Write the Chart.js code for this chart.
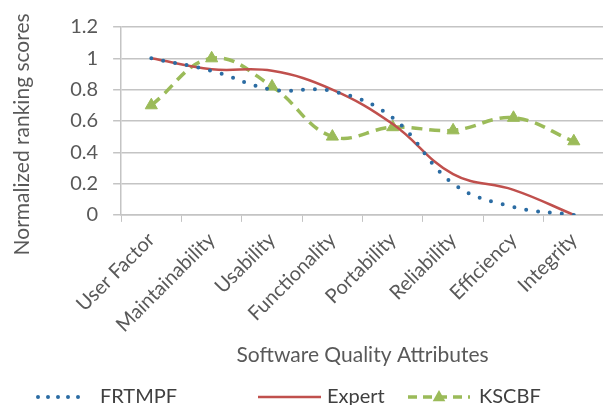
<!DOCTYPE html>
<html>
<head>
<meta charset="utf-8">
<script src="https://cdn.jsdelivr.net/npm/chart.js@4"></script>
<style>
  html, body { margin: 0; padding: 0; overflow: hidden; background: #fff; }
  #wrap { width: 612px; height: 405px; position: relative; }
</style>
</head>
<body>
<div id="wrap"><canvas id="chart" width="612" height="405"></canvas></div>
<script>
var categories = ['User Factor', 'Maintainability', 'Usability', 'Functionality', 'Portability', 'Reliability', 'Efficiency', 'Integrity'];
var frtmpf = [1, 0.92, 0.80, 0.79, 0.62, 0.20, 0.05, 0];
var expert = [1, 0.93, 0.92, 0.80, 0.58, 0.26, 0.16, 0];
var kscbf = [0.70, 1, 0.82, 0.50, 0.56, 0.54, 0.62, 0.47];
var yTicks = [0, 0.2, 0.4, 0.6, 0.8, 1, 1.2];

var textColor = '#595959';
var gridColor = '#c4c4c4';
var font = 'Lato, "Open Sans", sans-serif';

// legend drawn by hand so the samples sit where the original has them
var sampleLegend = {
    id: 'sampleLegend',
    afterDraw: function (chart, args, opts) {
        var ctx = chart.ctx;
        var ds = chart.data.datasets;
        ctx.save();
        opts.items.forEach(function (it, i) {
            var d = ds[i];
            ctx.beginPath();
            ctx.strokeStyle = d.borderColor;
            ctx.lineWidth = d.borderWidth;
            ctx.lineCap = d.borderCapStyle || 'butt';
            ctx.setLineDash(it.dash || d.borderDash || []);
            ctx.moveTo(it.x0, opts.y);
            ctx.lineTo(it.x1, opts.y);
            ctx.stroke();
            ctx.setLineDash([]);
            if (d.pointRadius > 0) {
                var cx = (it.x0 + it.x1) / 2, r = d.pointRadius;
                ctx.beginPath();
                ctx.fillStyle = d.pointBackgroundColor;
                ctx.moveTo(cx, opts.y - r);
                ctx.lineTo(cx + r * 0.9, opts.y + r * 0.6);
                ctx.lineTo(cx - r * 0.9, opts.y + r * 0.6);
                ctx.closePath();
                ctx.fill();
            }
            ctx.fillStyle = '#404040';
            ctx.font = '20px ' + font;
            ctx.textBaseline = 'middle';
            ctx.fillText(d.label, it.tx, opts.y);
        });
        ctx.restore();
    }
};

var ctx = document.getElementById('chart').getContext('2d');
var myChart = new Chart(ctx, {
    type: 'line',
    data: {
        labels: categories,
        datasets: [{
            label: 'FRTMPF',
            data: frtmpf,
            borderColor: '#2b6ca3',
            borderWidth: 4,
            borderDash: [0, 12],
            borderCapStyle: 'round',
            pointRadius: 0,
            tension: 0.4,
            fill: false
        }, {
            label: 'Expert',
            data: expert,
            borderColor: '#c0504d',
            borderWidth: 2.5,
            pointRadius: 0,
            tension: 0.4,
            fill: false
        }, {
            label: 'KSCBF',
            data: kscbf,
            borderColor: '#9bbb59',
            borderWidth: 3.5,
            borderDash: [11, 7],
            pointStyle: 'triangle',
            pointRadius: 7,
            pointBackgroundColor: '#9bbb59',
            pointBorderColor: '#9bbb59',
            pointBorderWidth: 1,
            tension: 0.4,
            fill: false
        }]
    },
    options: {
        responsive: false,
        animation: false,
        devicePixelRatio: 1,
        layout: { padding: { left: 10, top: 10, right: 0, bottom: 37 } },
        plugins: {
            legend: { display: false },
            tooltip: { enabled: false },
            sampleLegend: {
                y: 397,
                items: [
                    { x0: 38, x1: 80, tx: 100, dash: [0, 10] },
                    { x0: 258, x1: 321, tx: 327 },
                    { x0: 408, x1: 470, tx: 479, dash: [9, 6] }
                ]
            }
        },
        scales: {
            x: {
                offset: true,
                grid: { offset: true, drawOnChartArea: false, tickLength: 7, color: gridColor },
                border: { color: gridColor, width: 1.5 },
                ticks: {
                    color: textColor,
                    font: { family: font, size: 20 },
                    minRotation: 45,
                    maxRotation: 45,
                    autoSkip: false,
                    padding: 6
                },
                title: {
                    display: true,
                    text: 'Software Quality Attributes',
                    color: textColor,
                    font: { family: font, size: 21 },
                    padding: { top: 0, bottom: 0 }
                }
            },
            y: {
                min: yTicks[0],
                max: yTicks[yTicks.length - 1],
                afterBuildTicks: function (axis) {
                    axis.ticks = yTicks.map(function (v) { return { value: v }; });
                },
                grid: { color: gridColor, lineWidth: 1.5, tickLength: 8 },
                border: { color: gridColor, width: 1.5 },
                ticks: {
                    color: textColor,
                    font: { family: font, size: 20 },
                    padding: 15,
                    callback: function (v) { return String(Math.round(v * 10) / 10); }
                },
                title: {
                    display: true,
                    // trailing spaces nudge the centred title down like the original
                    text: 'Normalized ranking scores     ',
                    color: textColor,
                    font: { family: font, size: 21 },
                    padding: { top: 0, bottom: 20 }
                }
            }
        }
    },
    plugins: [sampleLegend]
});
</script>
</body>
</html>
